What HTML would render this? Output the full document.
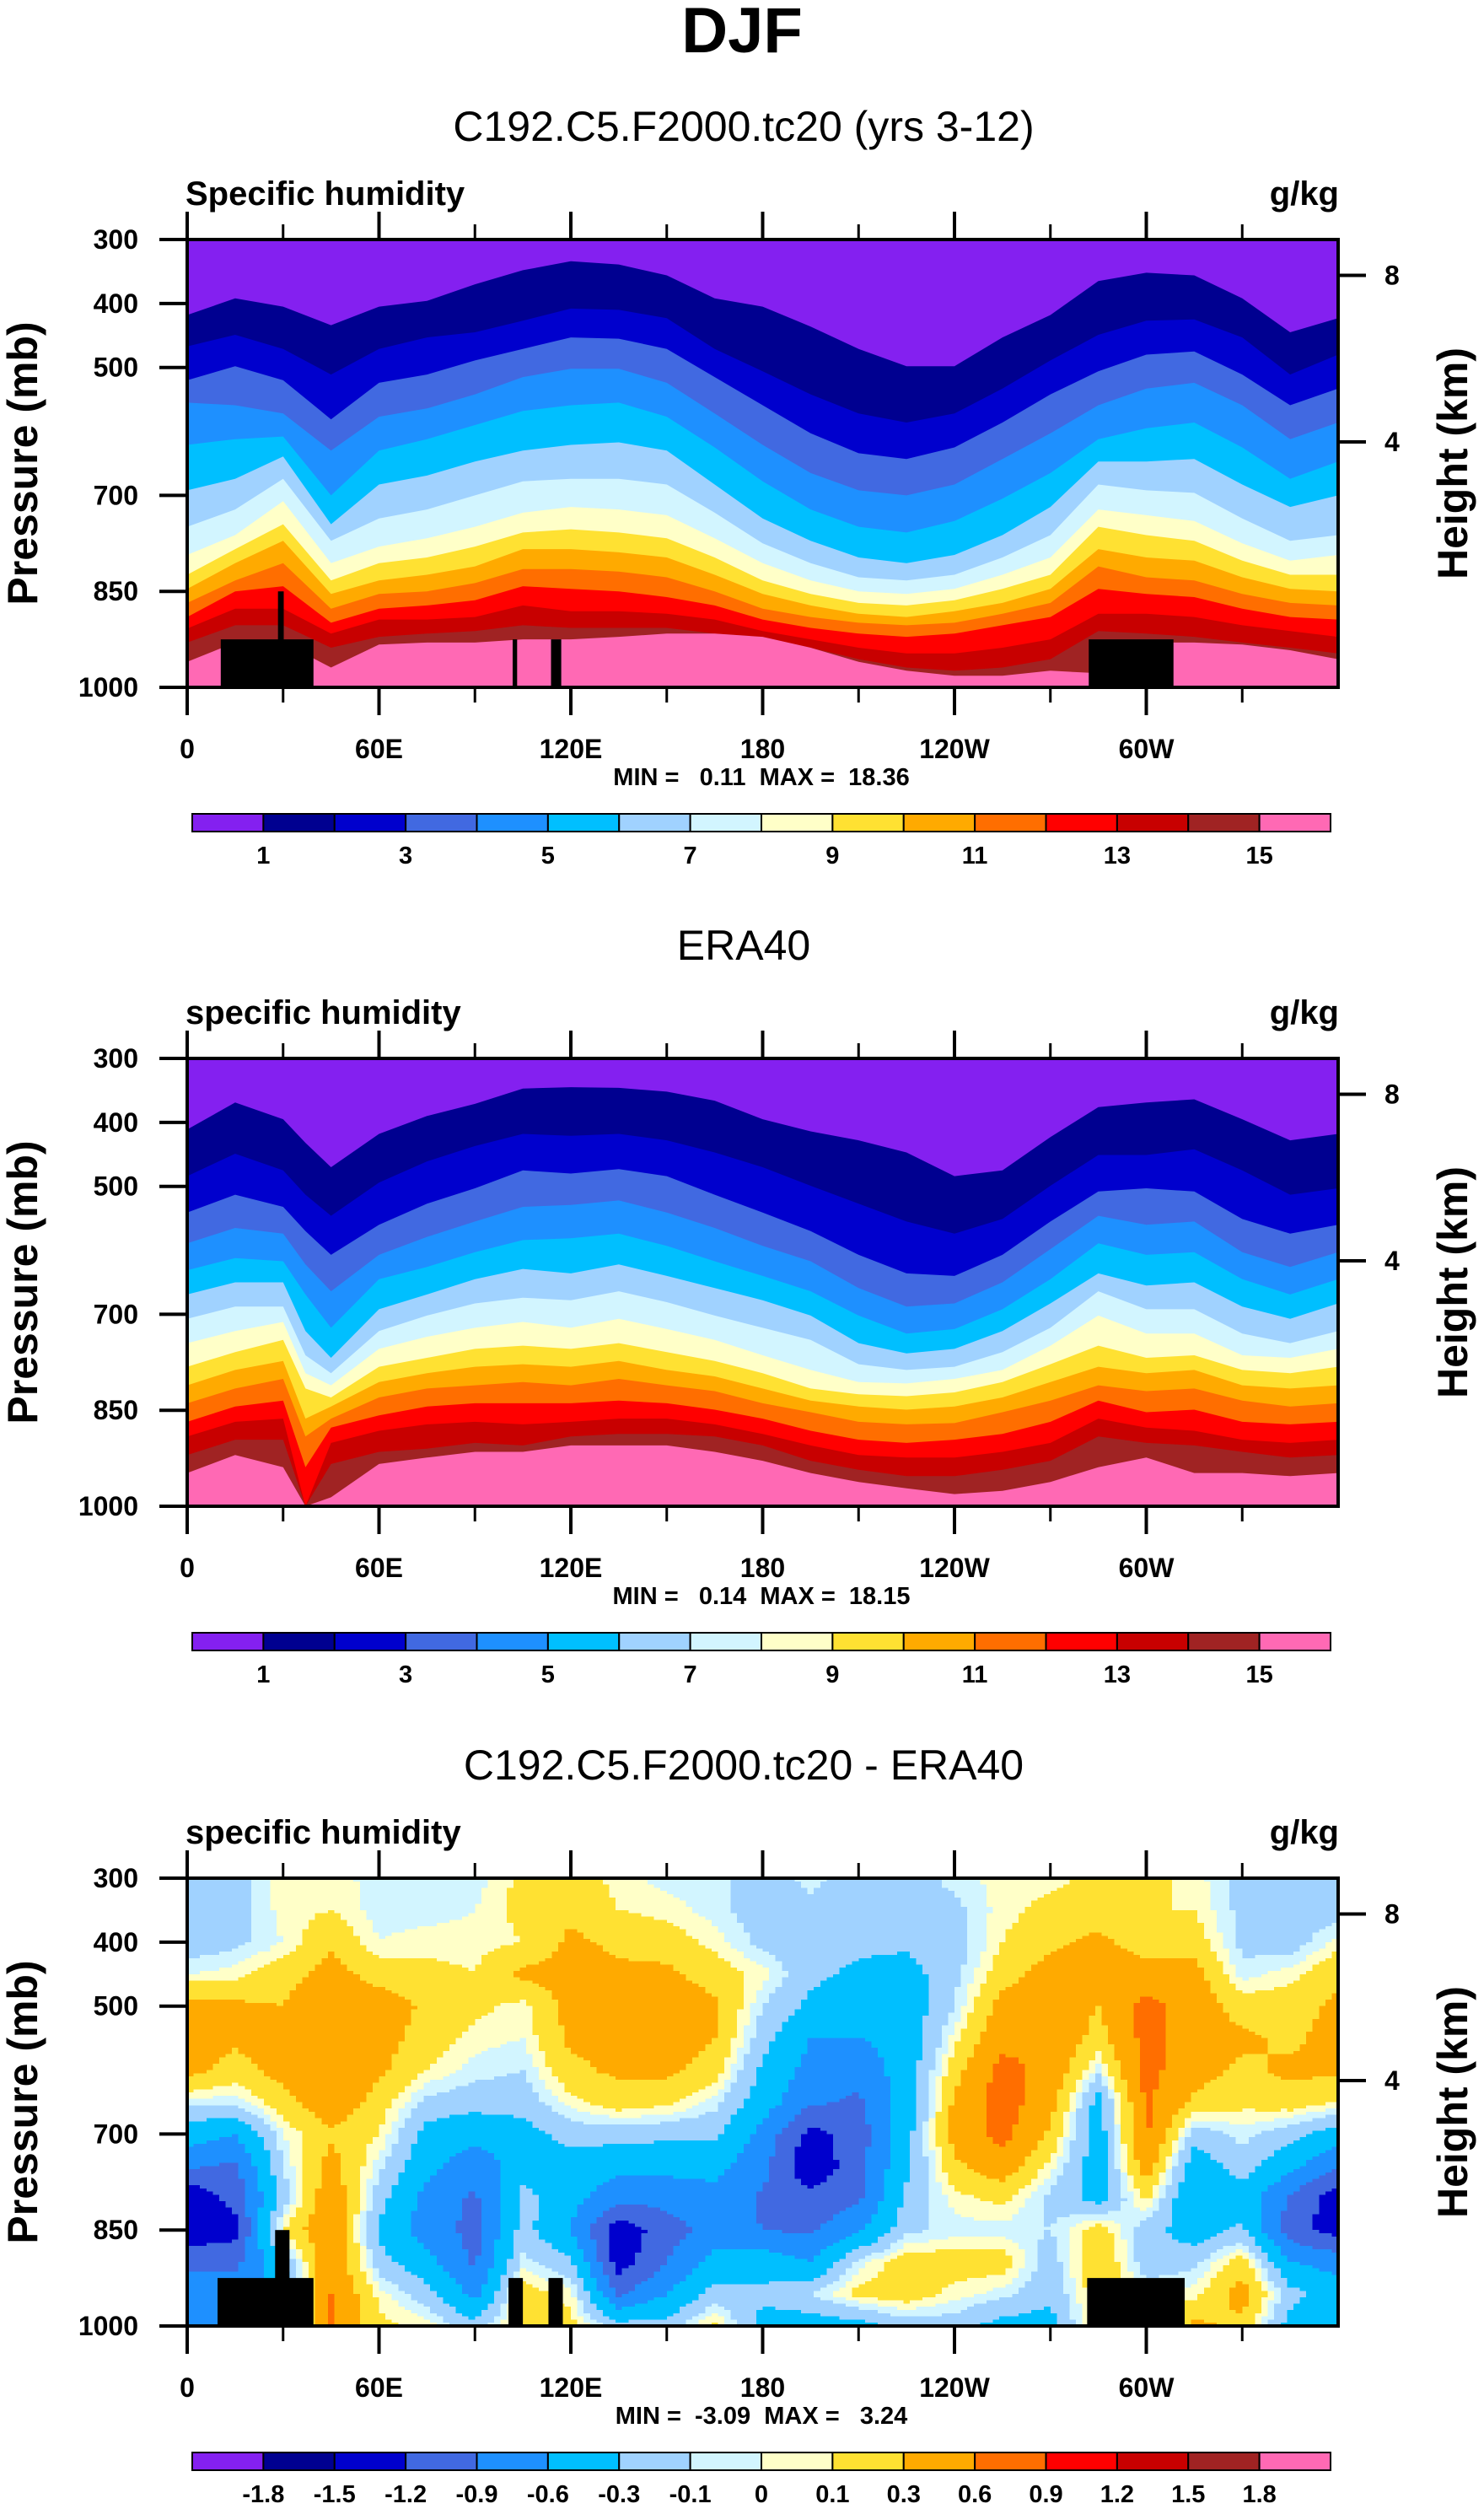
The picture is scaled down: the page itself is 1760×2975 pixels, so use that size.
<!DOCTYPE html>
<html><head><meta charset="utf-8"><style>
html,body{margin:0;padding:0;background:#fff}
svg{display:block}
text{font-family:"Liberation Sans",Arial,sans-serif}
</style></head><body>
<svg id="fig" width="1760" height="2975" viewBox="0 0 1760 2975" xmlns="http://www.w3.org/2000/svg">
<text x="880" y="62" text-anchor="middle" font-size="76" font-weight="bold">DJF</text>
</svg>
<script>
// ---------- data ----------
const bandColors=["#8420f0","#000090","#0000cd","#4169e1","#1e90ff","#00bfff","#a0d2ff","#d2f5ff","#ffffc8","#ffe132","#ffaa00","#ff6e00","#ff0000","#c80000","#a02323","#ff69b4"];
const qLevelLabels=["1","","3","","5","","7","","9","","11","","13","","15"];
const dLevels=[-1.8,-1.5,-1.2,-0.9,-0.6,-0.3,-0.1,0,0.1,0.3,0.6,0.9,1.2,1.5,1.8];
const dLevelLabels=["-1.8","-1.5","-1.2","-0.9","-0.6","-0.3","-0.1","0","0.1","0.3","0.6","0.9","1.2","1.5","1.8"];
const lonTicksMajor=[0,60,120,180,240,300];
const lonTicksMinor=[30,90,150,210,270,330];
const lonTickLabels=["0","60E","120E","180","120W","60W"];
const presTicks=[300,400,500,700,850,1000];
const heightTicks=[8,4];

const p1Lons=[0,15,30,45,60,75,90,105,120,135,150,165,180,195,210,225,240,255,270,285,300,315,330,345,360];
const p1Contours=[
[418,392,405,434,405,396,370,348,334,339,356,392,405,436,471,498,498,453,418,365,352,356,392,445,423],
[467,449,471,511,471,453,445,427,408,410,423,471,506,542,572,586,572,533,489,449,427,425,453,511,480],
[520,498,520,581,524,511,489,471,453,455,471,515,559,603,634,643,625,586,542,506,480,475,511,559,533],
[555,559,572,630,577,564,542,515,502,502,524,572,621,665,692,700,683,643,603,559,533,524,559,612,586],
[621,612,608,700,630,612,590,568,559,555,577,625,678,722,749,758,740,705,665,612,595,586,625,674,647],
[692,674,639,745,683,669,647,630,621,617,630,683,736,771,797,806,793,762,718,647,647,643,683,718,700],
[749,722,674,771,736,722,700,678,674,674,683,727,775,806,828,833,824,797,762,683,692,696,736,771,762],
[793,762,709,806,780,767,749,727,718,722,731,767,806,833,850,854,846,824,797,722,731,740,775,802,793],
[824,784,745,833,806,797,780,758,753,758,767,797,833,854,868,872,864,846,824,749,762,771,802,824,824],
[846,806,771,854,833,824,811,784,784,789,797,824,854,872,885,890,881,868,846,784,797,802,828,846,850],
[868,833,806,877,854,850,837,815,815,819,828,850,877,890,899,903,899,885,868,811,828,833,854,868,872],
[890,850,842,899,877,872,864,842,846,850,859,872,894,907,916,921,916,903,890,846,854,859,877,890,894],
[908,877,877,916,894,894,890,872,881,881,885,894,912,925,938,947,947,938,925,885,885,890,903,912,921],
[930,903,903,938,921,916,912,903,907,907,907,916,921,938,956,969,974,969,956,912,916,921,930,938,947],
[960,930,930,969,933,930,930,925,925,921,916,916,921,938,960,974,982,982,974,978,930,930,933,942,956]];

const p2Lons=[0,15,30,37,45,60,75,90,105,120,135,150,165,180,195,210,225,240,255,270,285,300,315,330,345,360];
const p2Contours=[
[411,369,395,432,470,418,390,371,347,345,346,352,366,395,414,428,447,484,475,423,376,369,364,395,428,418],
[484,449,475,513,546,494,461,437,418,421,418,428,447,470,499,527,555,574,551,499,451,451,442,475,513,503],
[541,513,532,570,607,560,527,503,475,480,473,484,513,541,570,607,636,640,607,555,508,503,508,551,574,560],
[589,565,574,622,664,607,579,555,532,529,522,541,565,593,617,659,688,683,650,598,546,560,555,603,626,603],
[631,612,617,669,721,645,626,603,584,581,574,593,617,640,664,702,730,723,692,645,589,607,603,645,669,645],
[669,650,650,726,768,692,669,645,629,636,622,640,659,678,702,745,761,754,726,683,636,655,650,688,707,683],
[707,688,688,764,792,726,702,683,674,678,664,681,702,721,740,778,787,782,759,721,664,692,692,730,745,726],
[745,726,712,792,811,754,735,721,712,721,707,723,740,764,787,806,808,801,787,749,702,730,730,764,768,754],
[782,759,740,816,830,782,768,754,749,754,745,759,773,792,816,825,828,822,806,778,749,768,764,787,792,782],
[811,787,773,863,844,806,792,782,778,782,773,787,797,816,835,844,849,844,830,806,782,792,787,811,816,811],
[839,816,801,891,863,830,816,811,806,811,801,811,820,839,853,868,872,870,853,835,811,820,816,835,844,839],
[868,844,835,939,877,858,844,839,839,839,835,839,849,863,882,896,901,896,887,868,835,853,849,868,872,868],
[891,868,863,1000,901,882,872,868,872,868,863,863,872,887,905,920,924,924,915,901,863,877,882,896,901,896],
[920,896,896,1000,934,915,910,901,905,891,887,887,891,905,929,943,953,953,943,929,891,901,905,915,924,920],
[948,920,939,1000,986,934,924,915,915,905,905,905,915,929,948,962,972,981,976,962,939,924,948,948,953,948]];

const p3Lons=[0,15,30,45,60,75,90,105,120,135,150,165,180,195,210,225,240,255,270,285,300,315,330,345,360];
const p3Pres=[300,350,400,450,500,550,600,650,700,750,800,850,900,950,1000];
const p3ValuesByLon=[
[-0.2,-0.2,-0.2,0.0,0.4,0.45,0.4,-0.05,-0.45,-0.85,-1.45,-1.4,-1.0,-0.7,-0.7],
[-0.2,-0.2,-0.15,0.05,0.35,0.35,0.2,-0.05,-0.6,-0.95,-1.1,-1.3,-1.0,-0.7,-0.7],
[0.05,0.05,0.0,0.2,0.3,0.45,0.4,0.2,0.0,-0.1,-0.2,0.1,-0.3,-0.5,-0.5],
[0.05,0.1,0.25,0.4,0.55,0.55,0.55,0.5,0.25,0.4,0.5,0.55,0.55,0.6,0.6],
[-0.05,-0.05,0.0,0.2,0.45,0.4,0.35,0.2,0.1,-0.05,-0.2,-0.35,-0.2,0.05,0.15],
[-0.05,-0.05,0.05,0.15,0.25,0.2,0.1,-0.15,-0.4,-0.5,-0.7,-0.75,-0.5,-0.2,0.05],
[-0.05,0.0,0.05,0.1,0.15,0.05,-0.05,-0.2,-0.5,-0.8,-0.95,-1.0,-0.95,-0.7,-0.2],
[0.15,0.15,0.1,0.35,0.05,0.0,-0.1,-0.2,-0.4,-0.45,-0.2,-0.2,-0.05,0.2,0.2],
[0.2,0.25,0.35,0.4,0.4,0.35,0.25,0.05,-0.2,-0.45,-0.5,-0.6,-0.25,0.05,0.15],
[0.05,0.1,0.25,0.35,0.4,0.3,0.35,0.2,-0.2,-0.5,-0.8,-1.4,-1.35,-0.95,-0.2],
[-0.05,0.05,0.2,0.35,0.45,0.45,0.35,0.15,-0.25,-0.5,-0.8,-1.05,-0.9,-0.6,-0.2],
[-0.05,-0.05,0.05,0.2,0.35,0.3,0.2,-0.05,-0.25,-0.5,-0.7,-0.75,-0.5,-0.2,0.15],
[-0.2,-0.2,-0.15,0.05,-0.1,-0.2,-0.35,-0.45,-0.7,-0.8,-0.95,-0.9,-0.4,-0.25,-0.4],
[-0.05,-0.15,-0.2,-0.25,-0.35,-0.6,-0.7,-0.85,-1.3,-1.45,-1.1,-0.95,-0.6,-0.1,-0.45],
[-0.2,-0.2,-0.25,-0.35,-0.45,-0.6,-0.8,-0.95,-1.05,-1.0,-0.95,-0.65,-0.05,0.15,-0.4],
[-0.2,-0.2,-0.25,-0.4,-0.45,-0.5,-0.45,-0.45,-0.4,-0.35,-0.25,-0.15,0.2,0.2,-0.2],
[-0.05,-0.15,-0.2,-0.15,-0.1,0.05,0.2,0.35,0.4,0.25,0.05,-0.05,0.2,0.05,-0.2],
[0.05,0.05,0.1,0.2,0.4,0.5,0.7,0.75,0.7,0.45,0.15,-0.05,0.2,-0.05,-0.4],
[0.05,0.15,0.25,0.4,0.5,0.55,0.5,0.4,0.25,0.05,-0.15,-0.1,-0.2,-0.25,-0.4],
[0.15,0.2,0.35,0.4,0.3,0.2,-0.05,-0.4,-0.45,-0.45,-0.4,0.2,0.3,0.2,0.2],
[0.15,0.1,0.2,0.4,0.7,0.7,0.7,0.65,0.65,0.45,0.15,-0.2,-0.2,0.0,0.0],
[0.05,0.1,0.2,0.4,0.45,0.4,0.4,0.25,-0.2,-0.45,-0.6,-0.45,-0.15,0.05,0.35],
[-0.15,-0.15,-0.15,-0.05,0.2,0.35,0.25,0.15,-0.05,-0.2,-0.4,-0.25,0.2,0.4,0.25],
[-0.2,-0.2,-0.2,0.05,0.2,0.25,0.35,0.2,-0.2,-0.5,-0.95,-1.05,-0.6,-0.2,-0.4],
[-0.2,-0.2,0.05,0.25,0.35,0.4,0.35,0.1,-0.45,-0.9,-1.4,-1.35,-0.7,-0.5,-0.6]];

const p1Topo=[[10.5,39.5,925],[28.4,30.2,850],[101.8,103.2,925],[113.8,117,925],[282,308.5,925]];
const p3Topo=[[9.5,39.5,925],[27.5,32,850],[100.5,105,925],[113,117.5,925],[281.5,312,925]];

// ---------- layout ----------
const NS="http://www.w3.org/2000/svg";
const svg=document.getElementById('fig');
const FX0=222,FX1=1587,FH=531;
function X(lon){return FX0+lon/360*(FX1-FX0);}
function Yf(top){return p=>top+(p-300)/700*FH;}
function mk(tag,attrs,parent){const e=document.createElementNS(NS,tag);for(const k in attrs)e.setAttribute(k,attrs[k]);(parent||svg).appendChild(e);return e;}
function txt(s,attrs,parent){const e=mk('text',attrs,parent);e.textContent=s;return e;}
function hToP(h){return 1013.25*Math.pow(1-2.25577e-5*h*1000,5.25588);}

function frameAndAxes(g,top,title,varName){
  const Y=Yf(top);
  const t=txt(title,{x:882,y:top-117,'text-anchor':'middle','font-size':50},g);
  
  
  const v=txt(varName,{x:220,y:top-41,'font-size':40,'font-weight':'bold'},g);
  
  
  const u=txt("g/kg",{x:1588,y:top-41,'text-anchor':'end','font-size':40,'font-weight':'bold'},g);
  
  
  const fr=mk('rect',{x:FX0,y:top,width:FX1-FX0,height:FH,fill:'none',stroke:'#000','stroke-width':4},g);
  
  
  lonTicksMajor.forEach((lon,i)=>{
    const a=mk('line',{x1:X(lon),x2:X(lon),y1:top,y2:top-33,stroke:'#000','stroke-width':4},g);
    
    
    const b=mk('line',{x1:X(lon),x2:X(lon),y1:top+FH,y2:top+FH+33,stroke:'#000','stroke-width':4},g);
    
    
    const l=txt(lonTickLabels[i],{x:X(lon),y:top+FH+84,'text-anchor':'middle','font-size':32,'font-weight':'bold'},g);
    
    
  });
  lonTicksMinor.forEach(lon=>{
    const a=mk('line',{x1:X(lon),x2:X(lon),y1:top,y2:top-18,stroke:'#000','stroke-width':3},g);
    
    
    const b=mk('line',{x1:X(lon),x2:X(lon),y1:top+FH,y2:top+FH+18,stroke:'#000','stroke-width':3},g);
    
    
  });
  presTicks.forEach(p=>{
    const a=mk('line',{x1:FX0,x2:FX0-33,y1:Y(p),y2:Y(p),stroke:'#000','stroke-width':4},g);
    
    
    const l=txt(String(p),{x:164,y:Y(p)+11,'text-anchor':'end','font-size':32,'font-weight':'bold'},g);
    
    
  });
  heightTicks.forEach(h=>{
    const y=Y(hToP(h));
    const a=mk('line',{x1:FX1,x2:FX1+33,y1:y,y2:y,stroke:'#000','stroke-width':4},g);
    
    
    const l=txt(String(h),{x:1642,y:y+11,'font-size':32,'font-weight':'bold'},g);
    
    
  });
  const cy=top+FH/2;
  const ya=txt("Pressure (mb)",{x:0,y:0,'text-anchor':'middle','font-size':50,'font-weight':'bold',transform:`translate(44,${cy}) rotate(-90)`},g);
  
  
  const ra=txt("Height (km)",{x:0,y:0,'text-anchor':'middle','font-size':50,'font-weight':'bold',transform:`translate(1740,${cy}) rotate(-90)`},g);
  
  
}
function minmax(g,top,s){
  const t=txt(s,{x:903,y:top+FH+116,'text-anchor':'middle','font-size':29,'font-weight':'bold',style:'white-space:pre'},g);
  
  
}
function colorbar(g,top,labels){
  const cb=mk('g',{},g);
  
  
  const x0=228,x1=1578,y=top+681,h=21,w=(x1-x0)/16;
  bandColors.forEach((c,i)=>{
    const r=mk('rect',{x:x0+i*w,y:y,width:w,height:h,fill:c,stroke:'#000','stroke-width':2},cb);
    
    
  });
  labels.forEach((s,i)=>{
    if(!s)return;
    const l=txt(s,{x:x0+(i+1)*w,y:y+59,'text-anchor':'middle','font-size':29,'font-weight':'bold'},cb);
    
    
  });
}
function topo(g,top,list){
  const Y=Yf(top);
  list.forEach(t=>{
    const r=mk('rect',{x:X(t[0]),y:Y(t[2]),width:X(t[1])-X(t[0]),height:Y(1000)-Y(t[2]),fill:'#000'},g);
    
    
  });
}
function bandPanel(g,top,lons,contours){
  const Y=Yf(top);
  const bg=mk('rect',{x:FX0,y:top,width:FX1-FX0,height:FH,fill:bandColors[0]},g);
  
  
  contours.forEach((arr,k)=>{
    let d=`M${X(lons[0])},${Y(1000)}`;
    arr.forEach((p,i)=>{d+=` L${X(lons[i]).toFixed(1)},${Y(Math.min(p,1000)).toFixed(1)}`;});
    d+=` L${X(lons[lons.length-1])},${Y(1000)} Z`;
    const path=mk('path',{d:d,fill:bandColors[k+1]},g);
    
    
  });
}
function levelIndex(v){let n=0;for(const L of dLevels){if(v>=L)n++;}return n;}
function gridPanel(g,top){
  const Y=Yf(top);
  const dl=2,dp=5;
  const cells=mk('g',{'shape-rendering':'crispEdges'},g);
  
  
  for(let lon=0;lon<360;lon+=dl){
    const lc=lon+dl/2;
    let i=Math.min(Math.floor(lc/15),p3Lons.length-2);
    const fx=(lc-p3Lons[i])/(p3Lons[i+1]-p3Lons[i]);
    for(let p=300;p<1000;p+=dp){
      const pc=p+dp/2;
      let j=Math.min(Math.floor((pc-300)/50),p3Pres.length-2);
      const fy=(pc-p3Pres[j])/(p3Pres[j+1]-p3Pres[j]);
      const a=p3ValuesByLon[i][j],b=p3ValuesByLon[i+1][j],c=p3ValuesByLon[i][j+1],d=p3ValuesByLon[i+1][j+1];
      const v=a*(1-fx)*(1-fy)+b*fx*(1-fy)+c*(1-fx)*fy+d*fx*fy;
      const r=mk('rect',{x:X(lon).toFixed(1),y:Y(p).toFixed(1),width:(X(lon+dl)-X(lon)+0.6).toFixed(1),height:(Y(p+dp)-Y(p)+0.6).toFixed(1),fill:bandColors[levelIndex(v)]},cells);
      
      
    }
  }
}

const g1=mk('g',{});


bandPanel(g1,284,p1Lons,p1Contours);
topo(g1,284,p1Topo);
frameAndAxes(g1,284,"C192.C5.F2000.tc20 (yrs 3-12)","Specific humidity");
minmax(g1,284,"MIN =   0.11  MAX =  18.36");
colorbar(g1,284,qLevelLabels);

const g2=mk('g',{});


bandPanel(g2,1255,p2Lons,p2Contours);
frameAndAxes(g2,1255,"ERA40","specific humidity");
minmax(g2,1255,"MIN =   0.14  MAX =  18.15");
colorbar(g2,1255,qLevelLabels);

const g3=mk('g',{});


gridPanel(g3,2227);
topo(g3,2227,p3Topo);
frameAndAxes(g3,2227,"C192.C5.F2000.tc20 - ERA40","specific humidity");
minmax(g3,2227,"MIN =  -3.09  MAX =   3.24");
colorbar(g3,2227,dLevelLabels);
</script>
</body></html>
